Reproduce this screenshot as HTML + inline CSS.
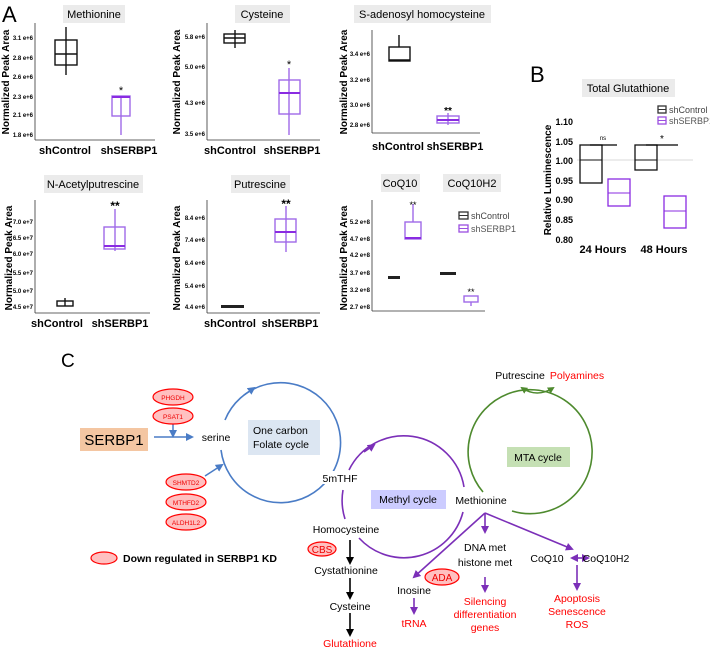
<!DOCTYPE html>
<html><head><meta charset="utf-8"><style>
html,body{margin:0;padding:0;background:#fff}
svg{display:block}
text{font-family:"Liberation Sans",Arial,sans-serif}
.tk{font-size:6px;font-weight:bold;text-anchor:end}
.yl{font-size:10px;font-weight:bold;text-anchor:middle}
.xl{font-size:11px;font-weight:bold;text-anchor:middle}
.tt{font-size:11px;text-anchor:middle}
.c{stroke:#111;stroke-width:1.4;fill:none}
.p{stroke:#a06ae8;stroke-width:1.4;fill:none}
.pm{stroke:#8a2be2;stroke-width:2}
.ax{stroke:#333;stroke-width:0.8}
.d{font-size:10.5px;text-anchor:middle}
.r{font-size:10.5px;text-anchor:middle;fill:#f00}
</style></head><body>
<svg width="710" height="650" viewBox="0 0 710 650" xmlns="http://www.w3.org/2000/svg">
<defs>
<marker id="ab" markerWidth="8" markerHeight="8" refX="6" refY="4" orient="auto" markerUnits="userSpaceOnUse"><path d="M0,0 L8,4 L0,8z" fill="#4a7cc6"/></marker>
<marker id="ap" markerWidth="8" markerHeight="8" refX="6" refY="4" orient="auto" markerUnits="userSpaceOnUse"><path d="M0,0 L8,4 L0,8z" fill="#7b2fb8"/></marker>
<marker id="apr" markerWidth="8" markerHeight="8" refX="2" refY="4" orient="auto" markerUnits="userSpaceOnUse"><path d="M8,0 L0,4 L8,8z" fill="#7b2fb8"/></marker>
<marker id="ak" markerWidth="8" markerHeight="8" refX="6" refY="4" orient="auto" markerUnits="userSpaceOnUse"><path d="M0,0 L8,4 L0,8z" fill="#000"/></marker>
<marker id="ag" markerWidth="7" markerHeight="7" refX="5" refY="3.5" orient="auto" markerUnits="userSpaceOnUse"><path d="M0,0 L7,3.5 L0,7z" fill="#4e8a2e"/></marker>
<marker id="agr" markerWidth="7" markerHeight="7" refX="2" refY="3.5" orient="auto" markerUnits="userSpaceOnUse"><path d="M7,0 L0,3.5 L7,7z" fill="#4e8a2e"/></marker>
</defs>

<text x="2" y="22" font-size="22">A</text>

<!-- Methionine -->
<rect x="63" y="5" width="62" height="18" fill="#ebebeb"/><text class="tt" x="94" y="18">Methionine</text>
<text class="yl" transform="translate(9,82) rotate(-90)">Normalized Peak Area</text>
<line class="ax" x1="35" y1="23" x2="35" y2="140"/><line class="ax" x1="35" y1="140" x2="155" y2="140"/>
<g class="tk"><text x="33" y="40">3.1 e+6</text><text x="33" y="60">2.8 e+6</text><text x="33" y="79">2.6 e+6</text><text x="33" y="99">2.3 e+6</text><text x="33" y="117">2.1 e+6</text><text x="33" y="137">1.8 e+6</text></g>
<line class="c" x1="66" y1="27" x2="66" y2="75"/><rect class="c" x="55" y="40" width="22" height="25" fill="#fff"/><line class="c" x1="55" y1="54" x2="77" y2="54" stroke-width="2"/>
<line class="p" x1="121" y1="96" x2="121" y2="135"/><rect class="p" x="112" y="96" width="18" height="20" fill="#fff"/><line class="pm" x1="112" y1="97" x2="130" y2="97"/>
<text x="121" y="94" font-size="11" text-anchor="middle">*</text>
<text class="xl" x="65" y="154">shControl</text><text class="xl" x="129" y="154">shSERBP1</text>

<!-- Cysteine -->
<rect x="235" y="5" width="55" height="18" fill="#ebebeb"/><text class="tt" x="262" y="18">Cysteine</text>
<text class="yl" transform="translate(180,82) rotate(-90)">Normalized Peak Area</text>
<line class="ax" x1="207" y1="23" x2="207" y2="140"/><line class="ax" x1="207" y1="140" x2="320" y2="140"/>
<g class="tk"><text x="205" y="39">5.8 e+6</text><text x="205" y="69">5.0 e+6</text><text x="205" y="105">4.3 e+6</text><text x="205" y="136">3.5 e+6</text></g>
<line class="c" x1="235" y1="30" x2="235" y2="48"/><rect class="c" x="224" y="34" width="21" height="9" fill="#fff"/><line class="c" x1="224" y1="38" x2="245" y2="38" stroke-width="2"/>
<line class="p" x1="289" y1="68" x2="289" y2="135"/><rect class="p" x="279" y="80" width="21" height="34" fill="#fff"/><line class="pm" x1="279" y1="93" x2="300" y2="93"/>
<text x="289" y="68" font-size="11" text-anchor="middle">*</text>
<text class="xl" x="230" y="154">shControl</text><text class="xl" x="292" y="154">shSERBP1</text>

<!-- SAH -->
<rect x="354" y="5" width="137" height="18" fill="#ebebeb"/><text class="tt" x="422" y="18">S-adenosyl homocysteine</text>
<text class="yl" transform="translate(347,82) rotate(-90)">Normalized Peak Area</text>
<line class="ax" x1="372" y1="30" x2="372" y2="133"/><line class="ax" x1="372" y1="133" x2="480" y2="133"/>
<g class="tk"><text x="370" y="56">3.4 e+6</text><text x="370" y="82">3.2 e+6</text><text x="370" y="107">3.0 e+6</text><text x="370" y="127">2.8 e+6</text></g>
<line class="c" x1="399" y1="35" x2="399" y2="47"/><rect class="c" x="389" y="47" width="21" height="14" fill="#fff"/><line class="c" x1="389" y1="60" x2="410" y2="60" stroke-width="2"/>
<line class="p" x1="448" y1="113" x2="448" y2="125"/><rect class="p" x="437" y="116" width="22" height="7" fill="#fff"/><line class="pm" x1="437" y1="120" x2="459" y2="120" stroke-width="1.4"/>
<text x="448" y="114" font-size="10" font-weight="bold" text-anchor="middle">**</text>
<text class="xl" x="398" y="150">shControl</text><text class="xl" x="455" y="150">shSERBP1</text>

<!-- N-Acetylputrescine -->
<rect x="44" y="175" width="99" height="18" fill="#ebebeb"/><text class="tt" x="93" y="188">N-Acetylputrescine</text>
<text class="yl" transform="translate(12,258) rotate(-90)">Normalized Peak Area</text>
<line class="ax" x1="35" y1="200" x2="35" y2="313"/><line class="ax" x1="35" y1="313" x2="150" y2="313"/>
<g class="tk"><text x="33" y="224">7.0 e+7</text><text x="33" y="240">6.5 e+7</text><text x="33" y="256">6.0 e+7</text><text x="33" y="275">5.5 e+7</text><text x="33" y="293">5.0 e+7</text><text x="33" y="309">4.5 e+7</text></g>
<line class="c" x1="65" y1="298" x2="65" y2="306"/><rect class="c" x="57" y="301" width="16" height="5" fill="#fff"/>
<line class="p" x1="115" y1="209" x2="115" y2="251"/><rect class="p" x="104" y="227" width="21" height="22" fill="#fff"/><line class="pm" x1="104" y1="246" x2="125" y2="246"/>
<text x="115" y="210" font-size="12" font-weight="bold" text-anchor="middle">**</text>
<text class="xl" x="57" y="327">shControl</text><text class="xl" x="120" y="327">shSERBP1</text>

<!-- Putrescine -->
<rect x="231" y="175" width="59" height="18" fill="#ebebeb"/><text class="tt" x="260" y="188">Putrescine</text>
<text class="yl" transform="translate(180,258) rotate(-90)">Normalized Peak Area</text>
<line class="ax" x1="207" y1="200" x2="207" y2="313"/><line class="ax" x1="207" y1="313" x2="320" y2="313"/>
<g class="tk"><text x="205" y="220">8.4 e+6</text><text x="205" y="242">7.4 e+6</text><text x="205" y="265">6.4 e+6</text><text x="205" y="288">5.4 e+6</text><text x="205" y="309">4.4 e+6</text></g>
<rect x="221" y="305" width="23" height="3" fill="#222"/>
<line class="p" x1="286" y1="206" x2="286" y2="252"/><rect class="p" x="275" y="219" width="21" height="23" fill="#fff"/><line class="pm" x1="275" y1="232" x2="296" y2="232"/>
<text x="286" y="208" font-size="12" font-weight="bold" text-anchor="middle">**</text>
<text class="xl" x="230" y="327">shControl</text><text class="xl" x="290" y="327">shSERBP1</text>

<!-- CoQ10 -->
<rect x="381" y="174" width="39" height="18" fill="#ebebeb"/><text class="tt" x="400" y="187">CoQ10</text>
<rect x="443" y="174" width="58" height="18" fill="#ebebeb"/><text class="tt" x="472" y="187">CoQ10H2</text>
<text class="yl" transform="translate(347,258) rotate(-90)">Normalized Peak Area</text>
<line class="ax" x1="372" y1="200" x2="372" y2="311"/><line class="ax" x1="372" y1="311" x2="485" y2="311"/>
<g class="tk"><text x="370" y="224">5.2 e+8</text><text x="370" y="241">4.7 e+8</text><text x="370" y="257">4.2 e+8</text><text x="370" y="275">3.7 e+8</text><text x="370" y="292">3.2 e+8</text><text x="370" y="309">2.7 e+8</text></g>
<rect x="388" y="276" width="12" height="3" fill="#222"/><rect x="440" y="272" width="16" height="3" fill="#222"/>
<line class="p" x1="413" y1="204" x2="413" y2="222"/><rect class="p" x="405" y="222" width="16" height="17" fill="#fff"/><line class="pm" x1="405" y1="238" x2="421" y2="238"/>
<text x="413" y="208" font-size="9" text-anchor="middle">**</text>
<rect class="p" x="464" y="296" width="14" height="6" fill="#fff"/><line class="p" x1="471" y1="302" x2="471" y2="306"/>
<text x="471" y="295" font-size="9" text-anchor="middle">**</text>
<rect x="459" y="212" width="9" height="7" fill="none" stroke="#333" stroke-width="1.3"/><line x1="459" y1="215.5" x2="468" y2="215.5" stroke="#333"/>
<text x="471" y="219" font-size="9" fill="#444">shControl</text>
<rect x="459" y="225" width="9" height="7" fill="none" stroke="#9b4fe0" stroke-width="1.3"/><line x1="459" y1="228.5" x2="468" y2="228.5" stroke="#9b4fe0"/>
<text x="471" y="232" font-size="9" fill="#555">shSERBP1</text>

<!-- B -->
<text x="530" y="82" font-size="22">B</text>
<rect x="582" y="79" width="93" height="18" fill="#ebebeb"/><text class="tt" x="628" y="92">Total Glutathione</text>
<rect x="658" y="106" width="8" height="7" fill="none" stroke="#333" stroke-width="1.3"/><line x1="658" y1="109.5" x2="666" y2="109.5" stroke="#333"/>
<text x="669" y="113" font-size="9" fill="#444">shControl</text>
<rect x="658" y="117" width="8" height="7" fill="none" stroke="#9b4fe0" stroke-width="1.3"/><line x1="658" y1="120.5" x2="666" y2="120.5" stroke="#9b4fe0"/>
<text x="669" y="124" font-size="9" fill="#555">shSERBP1</text>
<text class="yl" transform="translate(551,180) rotate(-90)" font-size="10">Relative Luminescence</text>
<g font-size="9" font-weight="bold" text-anchor="end"><text x="573" y="125">1.10</text><text x="573" y="145">1.05</text><text x="573" y="164">1.00</text><text x="573" y="184">0.95</text><text x="573" y="203">0.90</text><text x="573" y="223">0.85</text><text x="573" y="243">0.80</text></g>
<line x1="577" y1="160" x2="693" y2="160" stroke="#ccc" stroke-width="0.7"/>
<rect x="580" y="145" width="22" height="38" fill="none" stroke="#111" stroke-width="1.3"/><line x1="580" y1="160" x2="602" y2="160" stroke="#111"/>
<rect x="608" y="179" width="22" height="27" fill="none" stroke="#8a2be2" stroke-width="1.3"/><line x1="608" y1="193" x2="630" y2="193" stroke="#8a2be2"/>
<rect x="635" y="145" width="22" height="25" fill="none" stroke="#111" stroke-width="1.3"/><line x1="635" y1="160" x2="657" y2="160" stroke="#111"/>
<rect x="664" y="196" width="22" height="32" fill="none" stroke="#8a2be2" stroke-width="1.3"/><line x1="664" y1="211" x2="686" y2="211" stroke="#8a2be2"/>
<line x1="590" y1="145" x2="617" y2="145" stroke="#000" stroke-width="1.2"/><text x="603" y="140" font-size="6" text-anchor="middle">ns</text>
<line x1="646" y1="145" x2="678" y2="145" stroke="#000" stroke-width="1.2"/><text x="662" y="142" font-size="10" text-anchor="middle">*</text>
<text class="xl" x="603" y="253">24 Hours</text><text class="xl" x="664" y="253">48 Hours</text>

<!-- C -->
<text x="61" y="367" font-size="19">C</text>
<rect x="80" y="428" width="68" height="23" fill="#f4c6a2"/><text x="114" y="445" font-size="15" text-anchor="middle">SERBP1</text>
<line x1="154" y1="437" x2="192" y2="437" stroke="#4a7cc6" stroke-width="1.5" marker-end="url(#ab)"/>
<line x1="173" y1="424" x2="173" y2="436" stroke="#4a7cc6" stroke-width="1.5" marker-end="url(#ab)"/>
<g fill="#ffc0c0" stroke="#f00" stroke-width="1.2">
<ellipse cx="173" cy="397" rx="20" ry="8"/><ellipse cx="173" cy="416" rx="20" ry="8"/>
<ellipse cx="186" cy="482" rx="20" ry="8"/><ellipse cx="186" cy="502" rx="20" ry="8"/><ellipse cx="186" cy="522" rx="20" ry="8"/>
<ellipse cx="322" cy="549" rx="14" ry="7"/><ellipse cx="442" cy="577" rx="17" ry="8"/>
<ellipse cx="104" cy="558" rx="13" ry="6"/>
</g>
<g font-size="6.5" fill="#e00" text-anchor="middle">
<text x="173" y="400">PHGDH</text><text x="173" y="419">PSAT1</text>
<text x="186" y="485">SHMTD2</text><text x="186" y="505">MTHFD2</text><text x="186" y="525">ALDH1L2</text>
</g>
<text x="322" y="553" font-size="10" fill="#e00" text-anchor="middle">CBS</text>
<text x="442" y="581" font-size="10" fill="#e00" text-anchor="middle">ADA</text>
<text x="123" y="562" font-size="10.5" font-weight="bold">Down regulated in SERBP1 KD</text>
<text x="216" y="441" class="d">serine</text>

<!-- blue folate circle -->
<path d="M221,450 A60,60 0 1 0 225,420" fill="none" stroke="#4a7cc6" stroke-width="1.6"/>
<path d="M244,395 L254,388" stroke="#4a7cc6" stroke-width="1.6" marker-end="url(#ab)"/>
<line x1="205" y1="476" x2="222" y2="465" stroke="#4a7cc6" stroke-width="1.5" marker-end="url(#ab)"/>
<rect x="248" y="420" width="72" height="35" fill="#dce6f2"/>
<text x="253" y="434" font-size="10.5">One carbon</text><text x="253" y="448" font-size="10.5">Folate cycle</text>

<!-- purple methyl cycle -->
<g fill="none" stroke="#7b2fb8" stroke-width="1.6">
<path d="M349,470 A61,61 0 0 1 464,487"/>
<path d="M463,512 A61,61 0 0 1 359,538"/>
<path d="M345,519 A61,61 0 0 1 343,490"/>
</g>
<path d="M364,452 L374,445" stroke="#7b2fb8" stroke-width="1.6" marker-end="url(#ap)"/>
<rect x="323" y="471" width="34" height="13" fill="#fff"/>
<text x="340" y="482" class="d">5mTHF</text>
<rect x="371" y="490" width="75" height="19" fill="#ccccff"/><text x="408" y="503" class="d">Methyl cycle</text>
<text x="481" y="504" class="d">Methionine</text>

<!-- green MTA -->
<path d="M483,492 A62,62 0 1 1 512,511" fill="none" stroke="#4e8a2e" stroke-width="1.6"/>
<rect x="507" y="447" width="63" height="20" fill="#c5e0b4"/><text x="538" y="461" class="d">MTA cycle</text>
<path d="M522,388 Q537,398 553,388" fill="none" stroke="#4e8a2e" stroke-width="1.4" marker-start="url(#agr)" marker-end="url(#ag)"/>
<text x="520" y="379" class="d">Putrescine</text><text x="577" y="379" class="r">Polyamines</text>

<!-- methionine branches -->
<g stroke="#7b2fb8" stroke-width="1.6" fill="none">
<line x1="485" y1="513" x2="485" y2="532" marker-end="url(#ap)"/>
<line x1="485" y1="513" x2="572" y2="549" marker-end="url(#ap)"/>
<line x1="485" y1="513" x2="414" y2="577" marker-end="url(#ap)"/>
<line x1="485" y1="577" x2="485" y2="591" marker-end="url(#ap)"/>
<line x1="572" y1="558" x2="588" y2="558" marker-start="url(#apr)" marker-end="url(#ap)"/>
<line x1="577" y1="565" x2="577" y2="589" marker-end="url(#ap)"/>
<line x1="414" y1="598" x2="414" y2="613" marker-end="url(#ap)"/>
</g>
<text x="485" y="551" class="d">DNA met</text><text x="485" y="566" class="d">histone met</text>
<text x="485" y="605" class="r">Silencing</text><text x="485" y="618" class="r">differentiation</text><text x="485" y="631" class="r">genes</text>
<text x="547" y="562" class="d">CoQ10</text><text x="606" y="562" class="d">CoQ10H2</text>
<text x="577" y="602" class="r">Apoptosis</text><text x="577" y="615" class="r">Senescence</text><text x="577" y="628" class="r">ROS</text>
<text x="414" y="594" class="d">Inosine</text><text x="414" y="627" class="r">tRNA</text>

<!-- black chain -->
<text x="346" y="533" class="d">Homocysteine</text>
<g stroke="#000" stroke-width="1.6">
<line x1="350" y1="540" x2="350" y2="563" marker-end="url(#ak)"/>
<line x1="350" y1="578" x2="350" y2="598" marker-end="url(#ak)"/>
<line x1="350" y1="613" x2="350" y2="635" marker-end="url(#ak)"/>
</g>
<text x="346" y="574" class="d">Cystathionine</text>
<text x="350" y="610" class="d">Cysteine</text>
<text x="350" y="647" class="r">Glutathione</text>
</svg>
</body></html>
